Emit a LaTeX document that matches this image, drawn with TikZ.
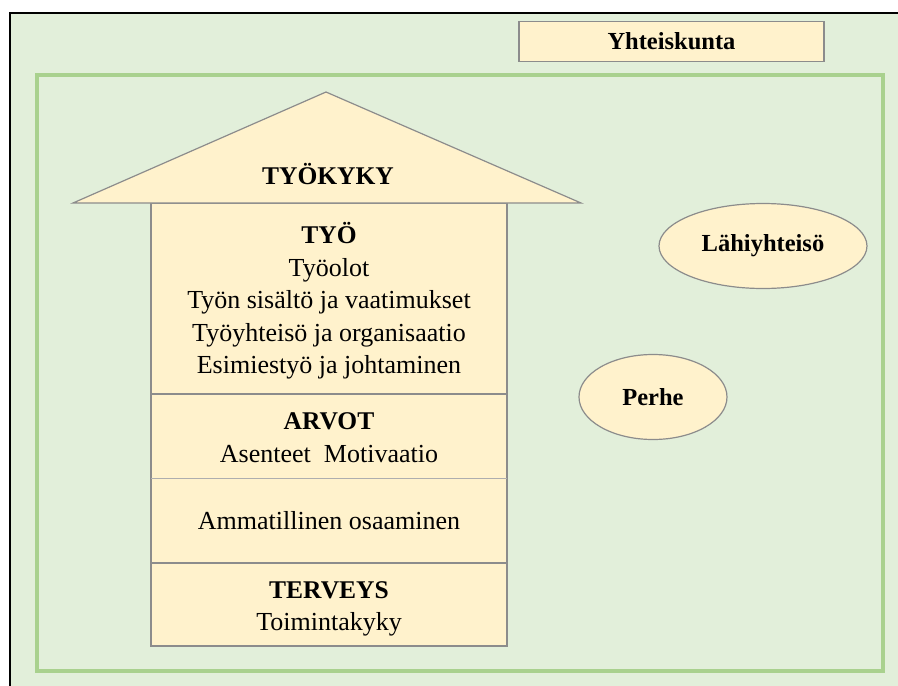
\documentclass[tikz,border=0pt]{standalone}
\usepackage{fontspec}
\setmainfont{Liberation Serif}
\usetikzlibrary{positioning,shapes.geometric}
\definecolor{Paper}{HTML}{E2EFDA}
\definecolor{Frame}{HTML}{A9D18E}
\definecolor{Cream}{HTML}{FFF2CC}
\definecolor{Edge}{HTML}{8C8C8C}

\begin{document}
\begin{tikzpicture}[x=1pt,y=-1pt,
  txt/.style={anchor=base,font=\fontsize{26}{30}\selectfont},
  head/.style={anchor=base,font=\fontsize{25.5}{30}\selectfont\bfseries},
  bubble/.style={ellipse,draw=Edge,fill=Cream,line width=1.2pt,inner sep=0pt,font=\fontsize{24.5}{28}\selectfont\bfseries}]
\useasboundingbox (0,0) rectangle (898,686);
\fill[white] (0,0) rectangle (898,686);
\fill[Paper] (10,13) rectangle (898,686);
\draw[black,line width=1.5pt] (10,686) -- (10,13) -- (898,13);
\draw[Frame,line width=4pt] (37,75) rectangle (883,671);
\node[draw=Edge,fill=Cream,line width=1.2pt,minimum width=305pt,minimum height=40pt,font=\fontsize{24.5}{28}\selectfont\bfseries] (yhteiskunta) at (671.5,41.5) {Yhteiskunta};
\filldraw[fill=Cream,draw=Edge,line width=1.2pt] (151,203) rectangle (507,646);
\filldraw[fill=Cream,draw=Edge,line width=1.2pt] (73,203) -- (326,92) -- (581,203) -- cycle;
\draw[Edge,line width=2.2pt] (151,394) -- (507,394);
\draw[Edge!70,line width=1pt] (151,478) -- (507,478);
\draw[Edge,line width=2.2pt] (151,563) -- (507,563);
\node[head] (tyokyky) at (328,184) {TYÖKYKY};
\node[head] (tyo) at (329,243) {TYÖ};
\node[txt] (tyoolot) at (329,276) {Työolot};
\node[txt] (sisalto) at (329,308) {Työn sisältö ja vaatimukset};
\node[txt] (yhteiso) at (329,341) {Työyhteisö ja organisaatio};
\node[txt] (johtaminen) at (329,373) {Esimiestyö ja johtaminen};
\node[head] (arvot) at (329,429) {ARVOT};
\node[txt] (asenteet) at (329,462) {Asenteet\ \ Motivaatio};
\node[txt] (osaaminen) at (329,529) {Ammatillinen osaaminen};
\node[head] (terveys) at (329,598) {TERVEYS};
\node[txt] (toimintakyky) at (329,630) {Toimintakyky};
\node[bubble,minimum width=208pt,minimum height=85pt] (lahiyhteiso) at (763,246) {Lähiyhteisö};
\node[bubble,minimum width=148pt,minimum height=85pt] (perhe) at (653,397) {Perhe};
\end{tikzpicture}
\end{document}
